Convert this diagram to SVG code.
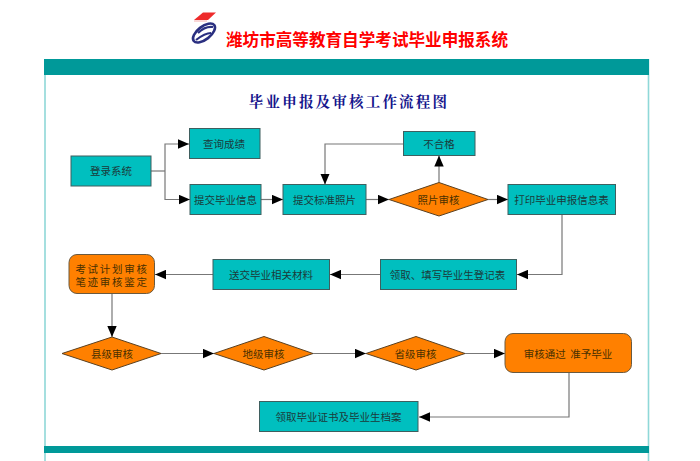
<svg xmlns="http://www.w3.org/2000/svg" width="700" height="461" viewBox="0 0 700 461">
<style>
text{font-family:"Noto Sans CJK SC","Liberation Sans",sans-serif;text-anchor:middle;dominant-baseline:central;font-size:10.5px;fill:#1c3a3a}
.box{fill:#00bfbf;stroke:#3f5f5f;stroke-width:1}
.dia{fill:#ff8000;stroke:#5a4020;stroke-width:1}
.rnd{fill:#ff8000;stroke:#6a5a40;stroke-width:1}
.con{fill:none;stroke:#777;stroke-width:1.2;marker-end:url(#arr)}
.plain{fill:none;stroke:#777;stroke-width:1.2}
.o{fill:#4a3000}
</style>
<defs>
<marker id="arr" markerUnits="userSpaceOnUse" markerWidth="12" markerHeight="10" refX="11" refY="5" orient="auto">
<path d="M0 0.3L11 5L0 9.7Z" fill="#000"/>
</marker>
</defs>
<rect width="700" height="461" fill="#fff"/>
<g id="logo">
<path d="M194 20L203 12.500H216L208 20Z" fill="#ee2b2b"/>
<path d="M194 21H207" fill="none" stroke="#f6b0b0" stroke-width="1"/>
<ellipse cx="204" cy="33" rx="13" ry="6.500" transform="rotate(-38 204 33)" fill="none" stroke="#2a2f80" stroke-width="2.600"/>
<path d="M198 33Q205 26 213 27M196 40Q205 33 211 33" fill="none" stroke="#2a2f80" stroke-width="2.200"/>
</g>
<text id="site-title" x="367" y="39" style="font-size:16.600px;font-weight:700;fill:#ff0000">潍坊市高等教育自学考试毕业申报系统</text>
<g id="panel">
<path d="M45 59V461M648.500 59V461" fill="none" stroke="#8fd8d8" stroke-width="1.600"/>
<rect x="44" y="59" width="605" height="16" fill="#009999"/>
<rect x="44" y="446" width="605" height="7" fill="#009999"/>
</g>
<text id="chart-title" x="349" y="100" style="font-size:14.500px;font-weight:700;fill:#14148c;font-family:'Noto Serif CJK SC','Noto Sans CJK SC',sans-serif;letter-spacing:2.200px">毕业申报及审核工作流程图</text>
<g id="connectors">
<path class="plain" d="M151 171H165"/>
<path class="con" d="M165 171V144H189"/>
<path class="con" d="M165 171V199.500H190"/>
<path class="con" d="M261 199.500H283"/>
<path class="con" d="M366 199.500H389"/>
<path class="con" d="M488 199.500H508"/>
<path class="con" d="M403 144H325V184.500"/>
<path class="con" d="M439 182.500V155.500"/>
<path class="con" d="M562 214.500V274.500H517"/>
<path class="con" d="M380 274.500H330"/>
<path class="con" d="M213 274.500H155"/>
<path class="con" d="M112 293.500V337"/>
<path class="con" d="M161 353.500H214"/>
<path class="con" d="M313 353.500H366"/>
<path class="con" d="M465 353.500H505"/>
<path class="con" d="M569 373V417H419"/>
</g>
<g id="n-login"><rect class="box" x="71" y="156" width="80" height="30"/><text x="111" y="170.500">登录系统</text></g>
<g id="n-query"><rect class="box" x="189.500" y="128.500" width="70.500" height="30"/><text x="224" y="143">查询成绩</text></g>
<g id="n-info"><rect class="box" x="190" y="184.500" width="71" height="30"/><text x="225.500" y="199">提交毕业信息</text></g>
<g id="n-photo"><rect class="box" x="283" y="184.500" width="83" height="30"/><text x="324.500" y="199">提交标准照片</text></g>
<g id="n-fail"><rect class="box" x="403.500" y="131.500" width="71.500" height="24"/><text x="439" y="143">不合格</text></g>
<g id="n-photocheck"><path class="dia" d="M389 199.500L439 182.500L488 199.500L439 216Z"/><text class="o" x="438.500" y="199">照片审核</text></g>
<g id="n-print"><rect class="box" x="508" y="184.500" width="107.500" height="30"/><text x="561.500" y="199">打印毕业申报信息表</text></g>
<g id="n-fill"><rect class="box" x="380.500" y="259.500" width="136" height="30"/><text x="447.500" y="274">领取、填写毕业生登记表</text></g>
<g id="n-submit"><rect class="box" x="213" y="259.500" width="116.500" height="30"/><text x="271" y="274">送交毕业相关材料</text></g>
<g id="n-exam"><rect class="rnd" x="69" y="254.500" width="85.500" height="39" rx="8"/><text class="o" style="letter-spacing:1.700px"><tspan x="112" y="268">考试计划审核</tspan><tspan x="112" y="281">笔迹审核鉴定</tspan></text></g>
<g id="n-county"><path class="dia" d="M62 353.500L112 337L161 353.500L112 370Z"/><text class="o" x="112" y="353">县级审核</text></g>
<g id="n-city"><path class="dia" d="M214 353.500L264 336.500L313 353.500L264 370Z"/><text class="o" x="263.500" y="353">地级审核</text></g>
<g id="n-prov"><path class="dia" d="M366 353.500L416 336.500L465 353.500L416 370Z"/><text class="o" x="415.500" y="353">省级审核</text></g>
<g id="n-pass"><rect class="rnd" x="505" y="333.500" width="126.500" height="39" rx="8"/><text class="o" x="568" y="353">审核通过&#160;&#160;准予毕业</text></g>
<g id="n-cert"><rect class="box" x="259.500" y="401.500" width="158.500" height="30"/><text x="338.500" y="416">领取毕业证书及毕业生档案</text></g>
</svg>
